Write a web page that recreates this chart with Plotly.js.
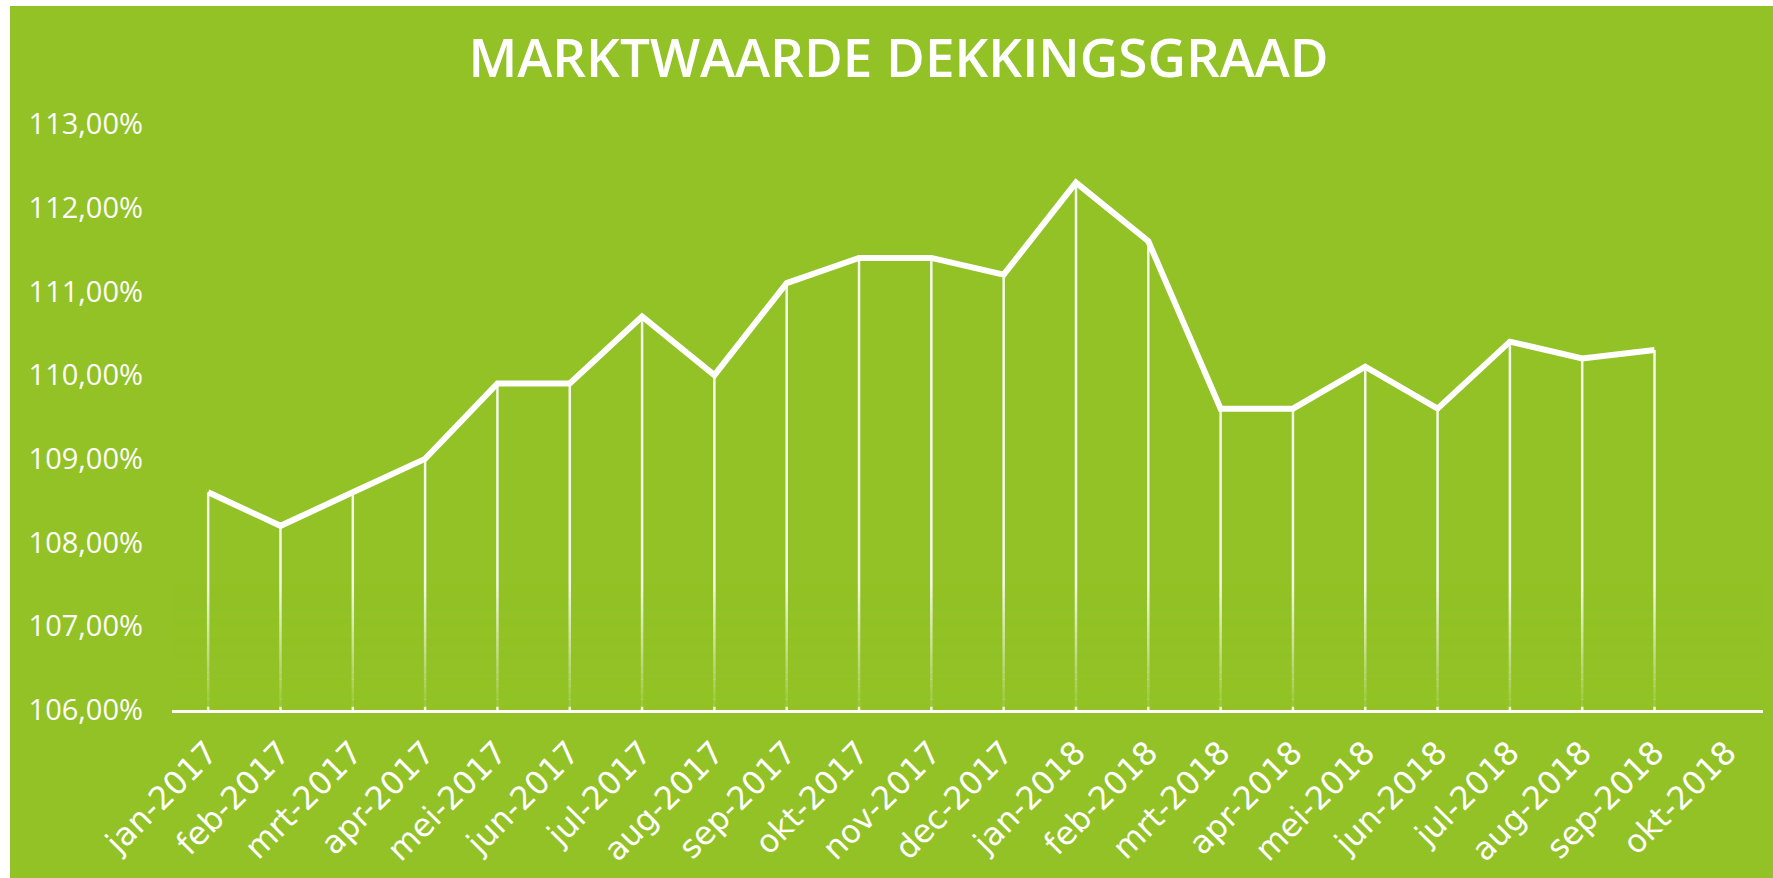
<!DOCTYPE html>
<html>
<head>
<meta charset="utf-8">
<script src="https://cdn.plot.ly/plotly-3.0.1.min.js"></script>
<style>
  html, body { margin: 0; padding: 0; background: #ffffff; width: 1773px; height: 878px; overflow: hidden; }
  #chart { position: absolute; left: 10px; top: 6px; width: 1763px; height: 872px; }
</style>
</head>
<body>
<div id="chart"></div>
<script>
// ---- data ----
const months = ["jan-2017","feb-2017","mrt-2017","apr-2017","mei-2017","jun-2017","jul-2017","aug-2017","sep-2017","okt-2017","nov-2017","dec-2017",
                "jan-2018","feb-2018","mrt-2018","apr-2018","mei-2018","jun-2018","jul-2018","aug-2018","sep-2018","okt-2018"];
const dekkingsgraad = [108.6,108.2,108.6,109.0,109.9,109.9,110.7,110.0,111.1,111.4,111.4,111.2,
                       112.3,111.6,109.6,109.6,110.1,109.6,110.4,110.2,110.3,null];
const yTicks = [106,107,108,109,110,111,112,113];
const yTickLabels = ["106,00%","107,00%","108,00%","109,00%","110,00%","111,00%","112,00%","113,00%"];
const yBase = 106;

// ---- style ----
const GREEN = "#92c225";
const WHITE = "#ffffff";

const dropDepth = dekkingsgraad.map(v => v === null ? null : v - yBase);
const zeros = dekkingsgraad.map(v => v === null ? null : 0);

const dropLines = {
  type: "scatter", mode: "markers", x: months, y: dekkingsgraad,
  marker: { size: 1, color: "rgba(0,0,0,0)" },
  error_y: { type: "data", symmetric: false, array: zeros, arrayminus: dropDepth,
             color: "rgba(255,255,255,0.9)", thickness: 2.5, width: 0 },
  hoverinfo: "skip", showlegend: false
};

const mainLine = {
  type: "scatter", mode: "lines", x: months, y: dekkingsgraad,
  line: { color: WHITE, width: 6 }, connectgaps: false, showlegend: false
};

// fading of the drop lines near the axis (decorative bands)
const shapes = [];
const nBands = 18, fadeTop = 107.5, fadeBottom = 106.04;
for (let i = 0; i < nBands; i++) {
  const y0 = fadeBottom + (fadeTop - fadeBottom) * i / nBands;
  const y1 = fadeBottom + (fadeTop - fadeBottom) * (i + 1) / nBands;
  const op = 0.92 * (1 - (i + 0.5) / nBands);
  shapes.push({ type: "rect", xref: "paper", yref: "y", x0: 0, x1: 1, y0: y0, y1: y1,
                fillcolor: "rgba(146,194,37," + op.toFixed(3) + ")", line: { width: 0 }, layer: "above" });
}

const layout = {
  width: 1763, height: 872,
  paper_bgcolor: GREEN, plot_bgcolor: GREEN,
  margin: { l: 162, r: 10, t: 118, b: 168 },
  title: {
    text: "MARKTWAARDE DEKKINGSGRAAD",
    font: { family: "Open Sans, DejaVu Sans, sans-serif", size: 53, color: WHITE, weight: 600 },
    x: 0.504, xanchor: "center", xref: "container",
    y: 1 - 52 / 872, yanchor: "middle", yref: "container"
  },
  xaxis: {
    type: "category", range: [-0.5, months.length - 0.5],
    showline: true, linecolor: WHITE, linewidth: 3,
    showgrid: false, zeroline: false, ticks: "",
    tickangle: -45, ticklabelstandoff: 8,
    tickfont: { family: "DejaVu Sans, Open Sans, sans-serif", size: 32, color: WHITE },
    fixedrange: true
  },
  yaxis: {
    range: [106, 113], tickmode: "array", tickvals: yTicks, ticktext: yTickLabels,
    showline: false, showgrid: false, zeroline: false, ticks: "",
    ticklabelstandoff: 28,
    tickfont: { family: "Open Sans, sans-serif", size: 29, color: WHITE },
    fixedrange: true
  },
  shapes: shapes,
  showlegend: false
};

Plotly.newPlot("chart", [dropLines, mainLine], layout, { displayModeBar: false, staticPlot: true });
</script>
</body>
</html>
